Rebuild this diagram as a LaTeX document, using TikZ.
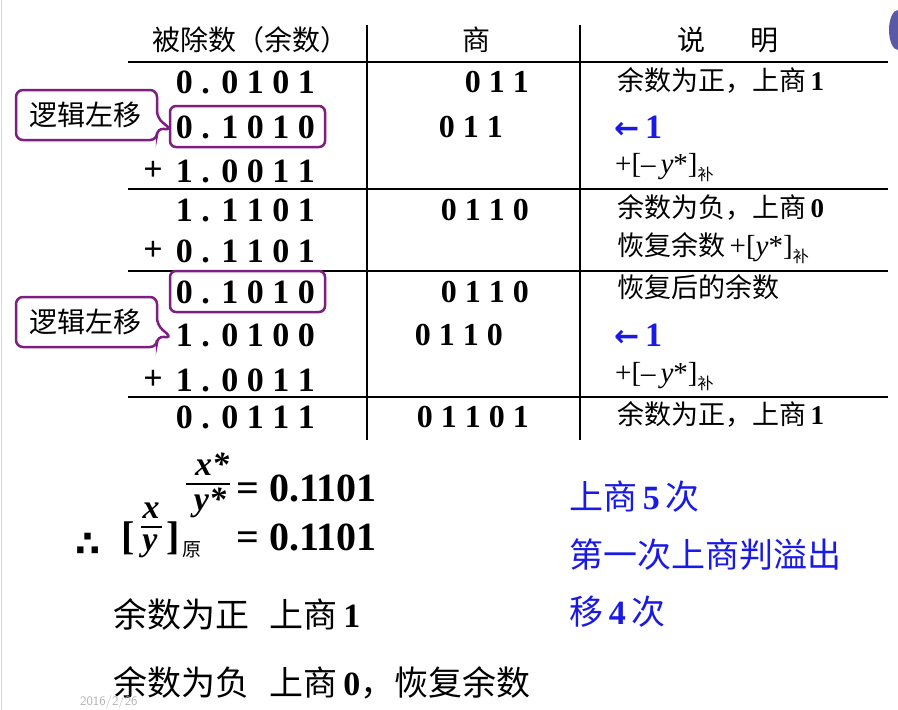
\documentclass[tikz,border=0pt]{standalone}
\usepackage{fontspec}
\setmainfont{Liberation Serif}
\newfontfamily\cjk{Noto Sans CJK SC}
\newfontfamily\dejavu{DejaVu Sans}
\definecolor{purp}{HTML}{7E1D82}
\definecolor{bl}{HTML}{1A1AE6}
\tikzset{
 dig/.style={inner sep=0,font=\fontsize{34}{34}\selectfont\bfseries},
 qd/.style={inner sep=0,font=\fontsize{32}{32}\selectfont\bfseries,anchor=east},
 ex/.style={inner sep=0,anchor=west,font=\fontsize{27}{27}\selectfont},
 hd/.style={inner sep=0,font=\fontsize{28}{28}\selectfont\cjk},
 rule/.style={line width=2.2pt},
 callout/.style={draw=purp,line width=2.5pt,rounded corners=7pt,fill=white},
 bigm/.style={inner sep=0,font=\fontsize{40}{40}\selectfont\bfseries},
 note/.style={inner sep=0,anchor=west,font=\fontsize{34}{34}\selectfont},
 larr/.style={ex,text=bl,font=\fontsize{34}{34}\selectfont\bfseries},
}
\newcommand{\C}[1]{{\cjk #1}}
\newcommand{\LA}{{\dejavu\fontsize{30}{30}\selectfont ←}}
\begin{document}
\begin{tikzpicture}[x=1pt,y=-1pt]
\useasboundingbox (0,0) rectangle (898,710);
\fill[white] (0,0) rectangle (898,710);
\draw[gray!30,line width=1.5pt] (1.5,0) -- (1.5,710);
\draw[fill=blue!30!gray,draw=none] (898,10) arc (90:270:9pt and 20pt) -- cycle;
% table rules
\draw[rule] (128,62) -- (888,62);
\draw[rule] (128,189) -- (888,189);
\draw[rule] (128,271) -- (888,271);
\draw[rule] (128,397) -- (888,397);
\draw[rule] (367,25) -- (367,440);
\draw[rule] (580,25) -- (580,440);
% header
\node[hd] (h1) at (250,40) {被除数（余数）};
\node[hd] (h2) at (476,40) {商};
\node[hd] (h3) at (728,40) {说\hspace{1.6em}明};
% left column
\foreach \y/\t [count=\i] in {82/0 . 0 1 0 1,127/0 . 1 0 1 0,171/1 . 0 0 1 1,210/1 . 1 1 0 1,251/0 . 1 1 0 1,292/0 . 1 0 1 0,335/1 . 0 1 0 0,380/1 . 0 0 1 1,417/0 . 0 1 1 1}
  \node[dig,anchor=east] (L\i) at (315,\y) {\t};
\foreach \y/\i in {171/a,251/b,380/c}
  \node[dig] (P\i) at (153,\y) {+};
% quotient
\node[qd] (q1) at (529,82) {0 1 1};
\node[qd] (q2) at (503,127) {0 1 1};
\node[qd] (q4) at (529,210) {0 1 1 0};
\node[qd] (q6) at (529,292) {0 1 1 0};
\node[qd] (q7) at (503,335) {0 1 1 0};
\node[qd] (q9) at (529,417) {0 1 1 0 1};
% explanation
\node[ex] (e1) at (617,80) {\C{余数为正，上商}\,\textbf{1}};
\node[larr] (e2) at (614,127) {\LA\,1};
\node[ex,font=\fontsize{29}{29}\selectfont] (e3) at (615,168) {+[\textendash\,\textit{y}*]\raisebox{-7pt}{\C{\fontsize{16}{16}\selectfont 补}}};
\node[ex] (e4) at (617,207) {\C{余数为负，上商}\,\textbf{0}};
\node[ex] (e5) at (617,248) {\C{恢复余数}\,{\fontsize{29}{29}\selectfont+[\textit{y}*]}\raisebox{-7pt}{\C{\fontsize{16}{16}\selectfont 补}}};
\node[ex] (e6) at (617,287) {\C{恢复后的余数}};
\node[larr] (e7) at (614,335) {\LA\,1};
\node[ex,font=\fontsize{29}{29}\selectfont] (e8) at (615,377) {+[\textendash\,\textit{y}*]\raisebox{-7pt}{\C{\fontsize{16}{16}\selectfont 补}}};
\node[ex] (e9) at (617,414) {\C{余数为正，上商}\,\textbf{1}};
% boxes
\draw[draw=purp,line width=2.5pt,rounded corners=6pt] (170,106) rectangle (325,147);
\draw[draw=purp,line width=2.5pt,rounded corners=6pt] (170,271) rectangle (325,312);
% callouts
\draw[callout] (157,128) -- (157,140) -- (16,140) -- (16,90) -- (157,90) -- (157,118) -- (172,130) -- cycle;
\node[hd,font=\fontsize{28}{28}\selectfont\cjk] (c1) at (86,115) {逻辑左移};
\draw[callout] (157,336) -- (157,347) -- (16,347) -- (16,297) -- (157,297) -- (157,325) -- (172,338) -- cycle;
\node[hd,font=\fontsize{28}{28}\selectfont\cjk] (c2) at (86,322) {逻辑左移};
% bottom math
\node[bigm,font=\fontsize{34}{34}\selectfont\bfseries\itshape] (xs) at (212,464) {x*};
\draw[line width=2pt] (186,484) -- (230,484);
\node[bigm,font=\fontsize{34}{34}\selectfont\bfseries\itshape] (ys) at (210,503) {y*};
\node[bigm,anchor=west] (r1) at (236,488) {= 0.1101};
\node[inner sep=0,font=\fontsize{36}{36}\selectfont\dejavu\bfseries] (th) at (88,545) {∴};
\node[bigm] (lb) at (128,538) {[};
\node[bigm,font=\fontsize{34}{34}\selectfont\bfseries\itshape] (xx) at (151,511) {x};
\draw[line width=2pt] (141,527) -- (162,527);
\node[bigm,font=\fontsize{34}{34}\selectfont\bfseries\itshape] (yy) at (150,546) {y};
\node[bigm] (rb) at (173,538) {]};
\node[inner sep=0,font=\fontsize{19}{19}\selectfont\cjk] (yuan) at (192,550) {原};
\node[bigm,anchor=west] (r2) at (236,537) {= 0.1101};
% blue notes
\node[note,text=bl] (b1) at (569,497) {\C{上商}\,\textbf{5}\,\C{次}};
\node[note,text=bl] (b2) at (569,555) {\C{第一次上商判溢出}};
\node[note,text=bl] (b3) at (569,612) {\C{移}\,\textbf{4}\,\C{次}};
% black notes
\node[note] (n1) at (113,614) {\C{余数为正}\hspace{0.6em}\C{上商}\,\textbf{1}};
\node[note] (n2) at (113,683) {\C{余数为负}\hspace{0.6em}\C{上商}\,\textbf{0}\C{，恢复余数}};
\node[inner sep=0,anchor=west,text=gray!60,font=\fontsize{13}{13}\selectfont\sffamily] (dt) at (80,702) {2016/2/26};
\end{tikzpicture}
\end{document}
